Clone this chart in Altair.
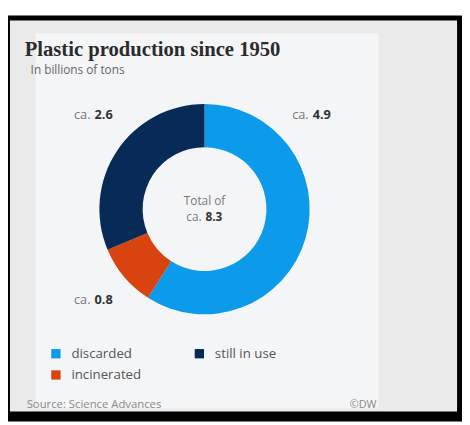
import altair as alt
import pandas as pd

# ---- data ----
categories = ["discarded", "incinerated", "still in use"]
values = [4.9, 0.8, 2.6]
stack_order = [0, 1, 2]
legend_order = ["discarded", "still in use", "incinerated"]
legend_colors = ["#0b9bea", "#072a56", "#d8430f"]
total_value = 8.3
title_text = "Plastic production since 1950"
subtitle_text = "In billions of tons"
source_text = "Source: Science Advances"
credit_text = "©DW"

df = pd.DataFrame({"category": categories, "value": values, "order": stack_order})
df["num"] = df["value"].map(lambda v: f"{v:.1f}")
tot = pd.DataFrame({"value": [total_value]})
tot["num"] = tot["value"].map(lambda v: f"{v:.1f}")
one = pd.DataFrame({"a": [0]})

W, H = 462, 417
FONT = "Open Sans"


def rect(x, x2, y, y2, color):
    return alt.Chart(one).mark_rect(color=color).encode(
        x=alt.value(x), x2=alt.value(x2), y=alt.value(y), y2=alt.value(y2)
    )


def label(text, x, y, size, color, weight="normal", align="left", font=FONT):
    return alt.Chart(one).mark_text(
        text=text, align=align, baseline="alphabetic", fontSize=size,
        color=color, fontWeight=weight, font=font
    ).encode(x=alt.value(x), y=alt.value(y))


frame = rect(0, W, 4, H, "#000000")
back = rect(2, 457, 9, 407, "#eaeaea")
card = rect(28, 377, 22, 404, "#f4f5f7")

color_scale = alt.Scale(domain=legend_order, range=legend_colors)

donut = alt.Chart(df).mark_arc(radius=107, innerRadius=63, stroke=None).encode(
    theta=alt.Theta("value:Q", stack=True),
    order=alt.Order("order:Q"),
    color=alt.Color(
        "category:N", scale=color_scale, sort=legend_order,
        legend=alt.Legend(
            orient="none", direction="horizontal", legendX=42, legendY=341,
            columns=2, columnPadding=52, rowPadding=7, padding=0,
            symbolType="square", symbolSize=90, symbolStrokeWidth=0,
            symbolOpacity=1, labelFont=FONT, labelFontSize=13.5,
            labelColor="#555555", labelOffset=9, title=None,
        ),
    ),
    x=alt.value(200), y=alt.value(201),
)


def value_label(cat, x_ca, x_num, y):
    base = alt.Chart(df).transform_filter(alt.datum.category == cat)
    ca = base.mark_text(text="ca.", align="right", baseline="alphabetic",
                        fontSize=13, color="#7a7a7a", font=FONT).encode(
        x=alt.value(x_ca), y=alt.value(y))
    num = base.mark_text(align="left", baseline="alphabetic", fontSize=13,
                         fontWeight="bold", color="#333333", font=FONT).encode(
        text="num:N", x=alt.value(x_num), y=alt.value(y))
    return ca + num


lab_still = value_label("still in use", 84, 88, 109)
lab_disc = value_label("discarded", 306, 310, 109)
lab_inc = value_label("incinerated", 84, 88, 298)

center1 = label("Total of", 200, 197, 12, "#7a7a7a", align="center")
center_ca = alt.Chart(tot).mark_text(text="ca.", align="right", baseline="alphabetic",
                                     fontSize=12, color="#7a7a7a", font=FONT).encode(
    x=alt.value(197), y=alt.value(213))
center_num = alt.Chart(tot).mark_text(align="left", baseline="alphabetic", fontSize=12,
                                      fontWeight="bold", color="#333333", font=FONT).encode(
    text="num:N", x=alt.value(201), y=alt.value(213))

title = label(title_text, 17, 45, 21, "#2b2b2b", weight="bold", font="Liberation Serif")
subtitle = label(subtitle_text, 23, 63, 12, "#666666")
source = label(source_text, 19, 403, 11.5, "#8a8a8a")
credit = label(credit_text, 375, 403, 11, "#8a8a8a", align="right")

chart = alt.layer(
    frame, back, card, donut, lab_still, lab_disc, lab_inc,
    center1, center_ca, center_num, title, subtitle, source, credit
).properties(
    width=W, height=H, padding=0,
    autosize=alt.AutoSizeParams(type="fit", contains="padding"),
    background="#ffffff",
).configure_view(stroke=None)

chart.save("out.html", embed_options={"renderer": "svg", "actions": False})
